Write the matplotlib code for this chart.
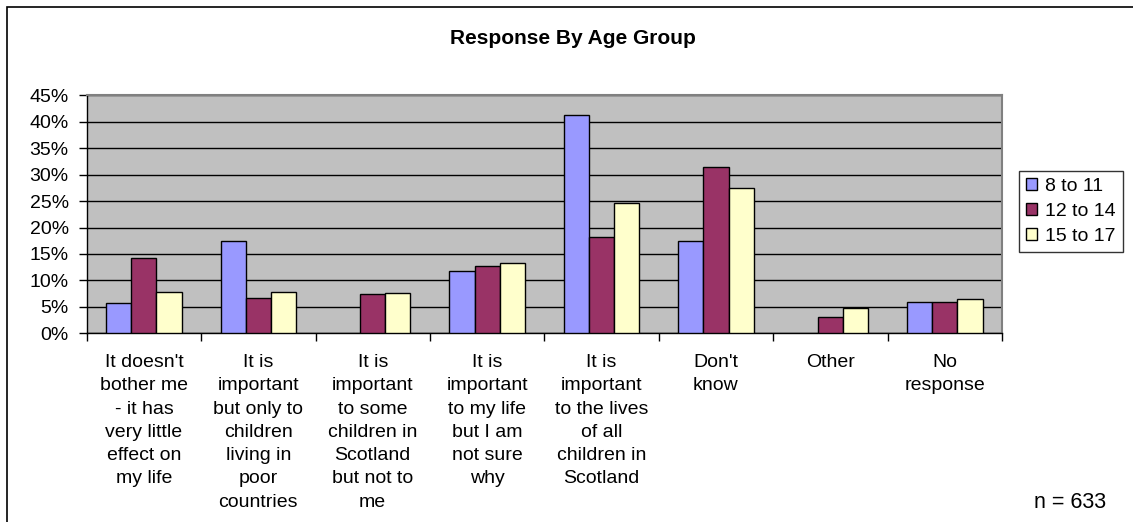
import numpy as np
import matplotlib
matplotlib.use('Agg')
import matplotlib.pyplot as plt
from matplotlib.patches import Rectangle
from matplotlib.ticker import PercentFormatter, FixedLocator

categories = [
    "It doesn't\nbother me\n- it has\nvery little\neffect on\nmy life",
    "It is\nimportant\nbut only to\nchildren\nliving in\npoor\ncountries",
    "It is\nimportant\nto some\nchildren in\nScotland\nbut not to\nme",
    "It is\nimportant\nto my life\nbut I am\nnot sure\nwhy",
    "It is\nimportant\nto the lives\nof all\nchildren in\nScotland",
    "Don't\nknow",
    "Other",
    "No\nresponse",
]
age_groups = ['8 to 11', '12 to 14', '15 to 17']
age_8_11 = [5.8, 17.5, 0, 11.8, 41.3, 17.5, 0, 5.9]
age_12_14 = [14.3, 6.6, 7.4, 12.8, 18.2, 31.4, 3.1, 5.9]
age_15_17 = [7.8, 7.9, 7.6, 13.3, 24.7, 27.4, 4.7, 6.4]
colors = ['#9999FF', '#993366', '#FFFFCC']

plt.rcParams['font.family'] = ['Liberation Sans', 'DejaVu Sans']

W, H = 1133, 522
fig = plt.figure(figsize=(W / 100, H / 100), dpi=100)
ax = fig.add_axes([86.7 / W, 1 - 333.3 / H, 915.3 / W, 238 / H])
ax.set_facecolor('#C0C0C0')

x = np.arange(len(categories)) + 0.5
w = 0.22
series = [age_8_11, age_12_14, age_15_17]
for i, (vals, c, lab) in enumerate(zip(series, colors, age_groups)):
    vals = np.array(vals, dtype=float)
    keep = vals > 0
    ax.bar((x + (i - 1) * w)[keep], vals[keep], w, color=c,
           edgecolor='black', linewidth=1.0, label=lab, zorder=3)

ax.set_xlim(0, len(categories))
ax.set_ylim(0, 45)
ax.set_yticks(np.arange(0, 46, 5))
ax.yaxis.set_major_formatter(PercentFormatter(decimals=0))
ax.yaxis.grid(True, color='black', linewidth=1.0, zorder=1)
ax.set_axisbelow(True)

ax.xaxis.set_major_locator(FixedLocator(np.arange(0, len(categories) + 1)))
ax.xaxis.set_minor_locator(FixedLocator(x))
ax.set_xticklabels([])
ax.set_xticklabels(categories, minor=True, fontsize=14, linespacing=1.48,
                   multialignment='center', va='top')
ax.tick_params(axis='x', which='major', length=6, width=1.0, direction='out')
ax.tick_params(axis='x', which='minor', length=0, pad=15)
ax.tick_params(axis='y', length=6, width=1.0, labelsize=14, pad=7)

for s in ['left', 'bottom']:
    ax.spines[s].set_color('black')
    ax.spines[s].set_linewidth(1.0)
for s in ['top', 'right']:
    ax.spines[s].set_color('#808080')
    ax.spines[s].set_linewidth(1.5)

leg = ax.legend(loc='upper left', bbox_to_anchor=(1019 / W, 1 - 171 / H),
                bbox_transform=fig.transFigure, fontsize=14, frameon=True,
                fancybox=False, edgecolor='black', handlelength=0.55,
                handleheight=0.55, handletextpad=0.45, labelspacing=0.42,
                borderpad=0.35, borderaxespad=0)
leg.get_frame().set_linewidth(1.0)

fig.text(573 / W, 1 - 38 / H, 'Response By Age Group', ha='center',
         va='center', fontsize=15, fontweight='bold')
fig.text(1070 / W, 1 - 502 / H, 'n = 633', ha='center', va='center',
         fontsize=15.5)

fig.patches.append(Rectangle((7 / W, -0.1), 1.2, 1.1 - 7 / H,
                             transform=fig.transFigure, fill=False,
                             edgecolor='black', linewidth=1.2))

fig.savefig('out.png', dpi=100)
